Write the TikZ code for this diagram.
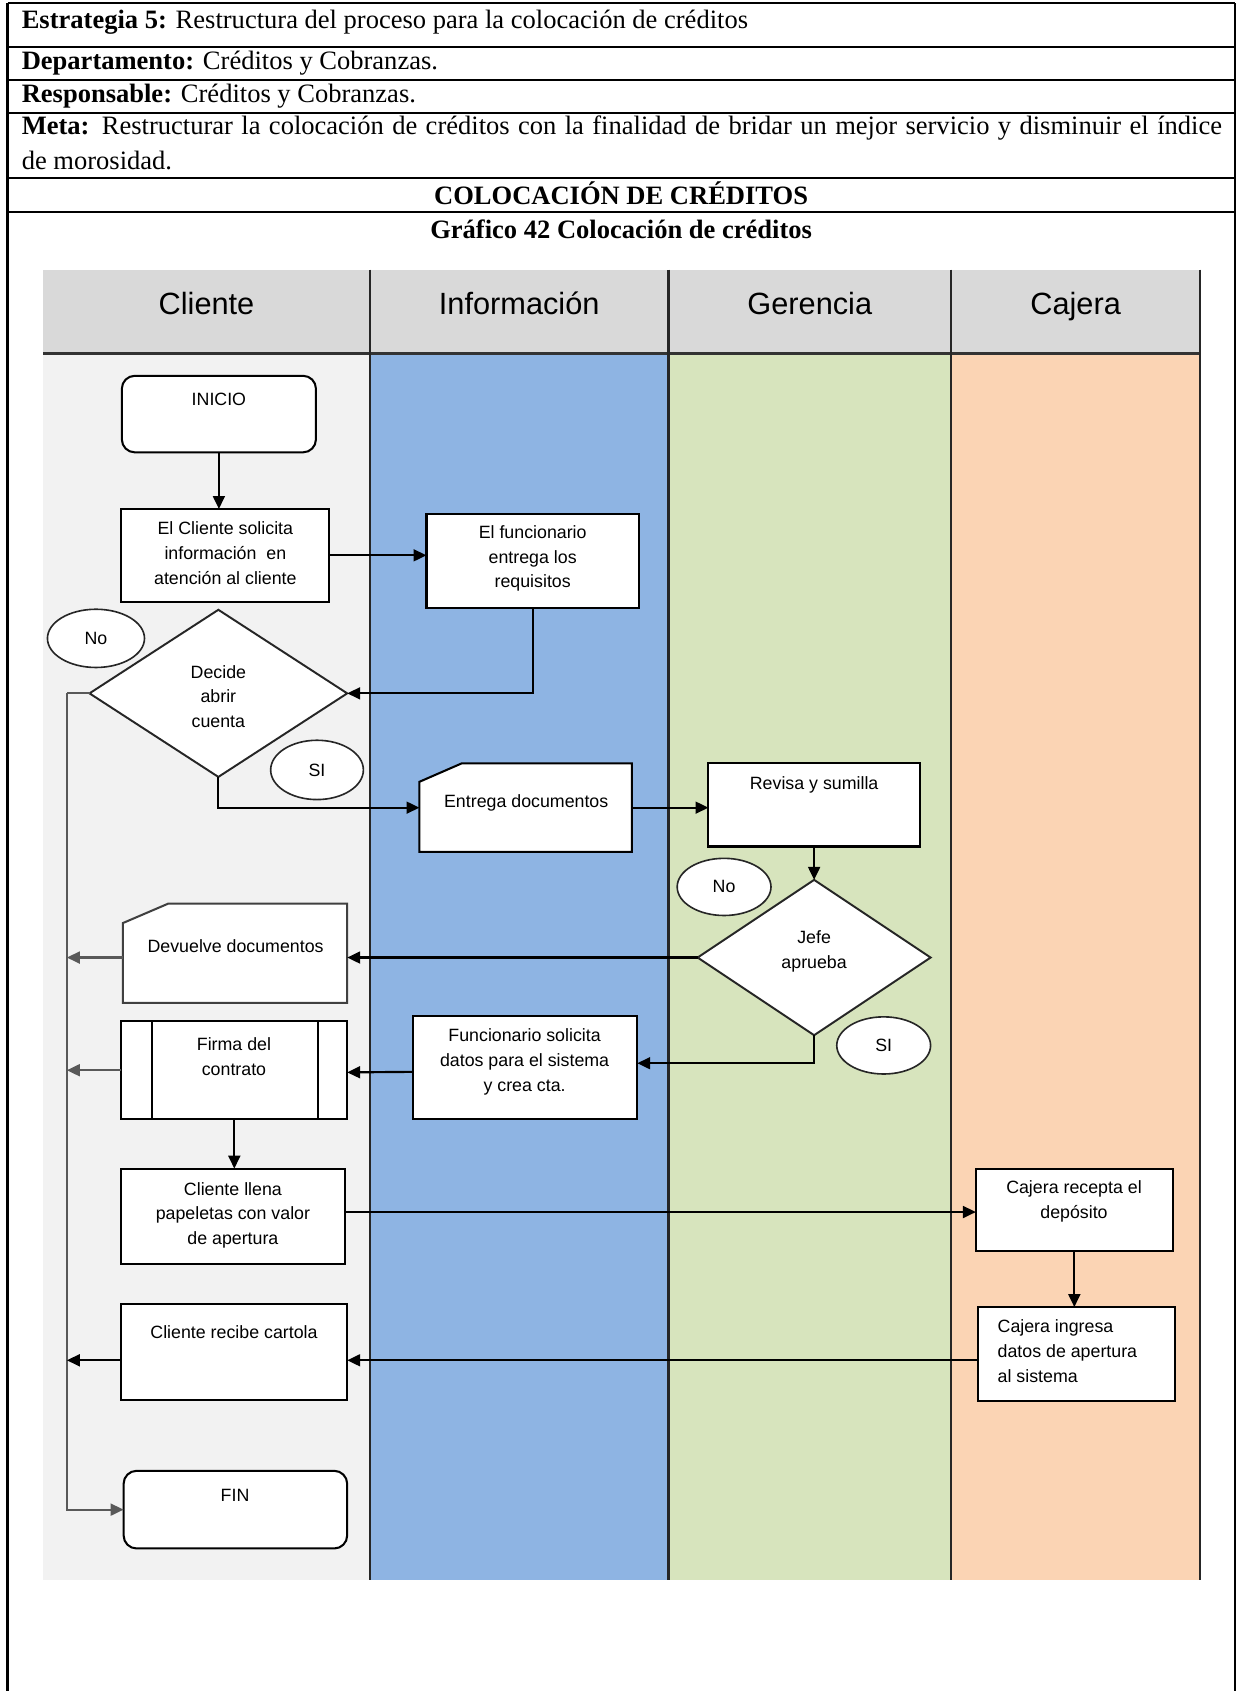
\documentclass[tikz,border=0pt]{standalone}
\usepackage{fontspec}
\setmainfont{Liberation Serif}
\newfontfamily\arialf{Liberation Sans}
\usetikzlibrary{arrows.meta,shapes.geometric,calc}

\definecolor{headgray}{RGB}{217,217,217}
\definecolor{lanecli}{RGB}{242,242,242}
\definecolor{laneinf}{RGB}{142,180,227}
\definecolor{laneger}{RGB}{215,228,189}
\definecolor{lanecaj}{RGB}{251,212,180}

\begin{document}
\begin{tikzpicture}[x=1pt,y=-1pt,
  tabline/.style={line width=2pt,black},
  tabtext/.style={anchor=base west,inner sep=0pt,font=\fontsize{24.6}{32.5}\selectfont},
  tabtitle/.style={anchor=base,inner sep=0pt,font=\fontsize{24.6}{32.5}\selectfont\bfseries},
  lanehead/.style={anchor=base,inner sep=0pt,font=\arialf\fontsize{28.5}{32}\selectfont},
  geom/.style={rectangle,inner sep=0pt,outer sep=0pt},
  procbox/.style={geom,draw=black,fill=white,line width=1.9pt},
  termbox/.style={procbox,rounded corners=12pt},
  docbox/.style={draw=black,fill=white,line width=1.9pt,line join=miter},
  decbox/.style={diamond,inner sep=0pt,outer sep=0pt,draw=black!85,fill=white,line width=1.8pt},
  tag/.style={ellipse,inner sep=0pt,draw=black!85,fill=white,line width=1.5pt,font=\arialf\fontsize{16.5}{20}\selectfont},
  txt/.style={inner sep=0pt,align=center,font=\arialf\fontsize{16.5}{23}\selectfont},
  tip/.style={-{Triangle[length=12pt,width=11pt]}},
  arr/.style={line width=2pt,tip},
  trunk/.style={line width=2pt,black!65},
  lanediv/.style={line width=2pt,black!85},
]
\useasboundingbox (0,0) rectangle (1150,1568.2);

% ---------- table frame ----------
\draw[tabline] (7,2.8) -- (1145,2.8);
\draw[tabline,line width=2.4pt] (7,43.6) -- (1145,43.6);
\draw[tabline] (7,74.2) -- (1145,74.2);
\draw[tabline] (7,104.8) -- (1145,104.8);
\draw[tabline,line width=2.4pt] (7,165.1) -- (1145,165.1);
\draw[tabline,line width=2.4pt] (7,196.6) -- (1145,196.6);
\draw[tabline] (7,2.8) -- (7,1570);
\draw[tabline] (1145,2.8) -- (1145,1570);

\node[tabtext] (estr) at (20,26) {\textbf{Estrategia 5:} Restructura del proceso para la colocación de créditos};
\node[tabtext] (dept) at (20,64.5) {\textbf{Departamento:} Créditos y Cobranzas.};
\node[tabtext] (resp) at (20,95.5) {\textbf{Responsable:} Créditos y Cobranzas.};
\node[tabtext] (meta) at (20,124.5) {\parbox[t]{1113pt}{\fontsize{24.6}{32.5}\selectfont
  \textbf{Meta:} Restructurar la colocación de créditos con la finalidad de bridar un mejor servicio y disminuir el índice\linebreak de morosidad.}};
\node[tabtitle] (colo) at (576,190) {COLOCACIÓN DE CRÉDITOS};
\node[tabtitle] (graf) at (576,221) {Gráfico 42 Colocación de créditos};

% ---------- swimlanes ----------
\fill[headgray] (40,250) rectangle (1113,328);
\fill[lanecli] (40,328) rectangle (343,1465);
\fill[laneinf] (343,328) rectangle (620,1465);
\fill[laneger] (620,328) rectangle (882,1465);
\fill[lanecaj] (882,328) rectangle (1113,1465);
\draw[line width=2.6pt,black!80] (40,328) -- (1113,328);
\foreach \lx in {343,620,882,1113} \draw[lanediv] (\lx,250) -- (\lx,1465);

\node[lanehead] (hcli) at (191.5,292) {Cliente};
\node[lanehead] (hinf) at (481.5,292) {Información};
\node[lanehead] (hger) at (751,292) {Gerencia};
\node[lanehead] (hcaj) at (997.5,292) {Cajera};

% ---------- shapes ----------
\node[termbox,minimum width=180pt,minimum height=71pt] (ini) at (203,384) {};
\node[procbox,minimum width=193pt,minimum height=86pt] (sol) at (209,515) {};
\node[procbox,minimum width=197pt,minimum height=87pt] (fun) at (494,520) {};
\node[decbox,minimum width=239pt,minimum height=155pt] (dec) at (202.5,643) {};

\node[geom,minimum width=197pt,minimum height=82pt] (ent) at (487.5,749) {};
\filldraw[docbox] ($(ent.north west)+(0,17)$) -- ($(ent.north west)+(39,0)$) -- (ent.north east)
  -- (ent.south east) -- (ent.south west) -- cycle;
\node[procbox,minimum width=196pt,minimum height=77pt] (rev) at (755,746.5) {};
\node[decbox,minimum width=216pt,minimum height=144pt] (jefe) at (755,888) {};

\node[geom,minimum width=208pt,minimum height=92pt] (dev) at (218,884) {};
\filldraw[docbox,draw=black!75] ($(dev.north west)+(0,18)$) -- ($(dev.north west)+(42,0)$) -- (dev.north east)
  -- (dev.south east) -- (dev.south west) -- cycle;

\node[procbox,minimum width=208pt,minimum height=95pt] (fs) at (487,990) {};
\node[procbox,minimum width=209.4pt,minimum height=91pt] (firma) at (217.3,992.5) {};
\draw[line width=1.9pt] ($(firma.north west)+(28,0)$) -- ($(firma.south west)+(28,0)$);
\draw[line width=1.9pt] ($(firma.north east)+(-27,0)$) -- ($(firma.south east)+(-27,0)$);
\node[procbox,minimum width=207.4pt,minimum height=88.5pt] (llena) at (216.3,1128) {};
\node[procbox,minimum width=182.6pt,minimum height=76pt] (caj1) at (996.3,1122) {};
\node[procbox,minimum width=182.7pt,minimum height=86.7pt] (caj2) at (998.3,1255.5) {};
\node[procbox,minimum width=209.4pt,minimum height=89pt] (rec) at (217.3,1254) {};
\node[termbox,minimum width=207.3pt,minimum height=72pt] (fin) at (218.3,1400) {};

% ---------- texts ----------
\node[txt] (tini) at (203,370) {INICIO};
\node[txt] (tsol) at (209,513) {El Cliente solicita\\información\ \ en\\atención al cliente};
\node[txt] (tfun) at (494,518) {El funcionario\\entrega los\\requisitos};
\node[txt] (tdec) at (202.5,646) {Decide\\abrir\\cuenta};
\node[txt] (tent) at (488,745) {Entrega documentos};
\node[txt] (trev) at (755,728) {Revisa y sumilla};
\node[txt] (tjefe) at (755,882) {Jefe\\aprueba};
\node[txt] (tdev) at (218.5,877) {Devuelve documentos};
\node[txt] (tfs) at (486.5,985) {Funcionario solicita\\datos para el sistema\\y crea cta.};
\node[txt] (tfirma) at (217,980) {Firma del\\contrato};
\node[txt] (tllena) at (216,1127) {Cliente llena\\papeletas con valor\\de apertura};
\node[txt] (tcaj1) at (996,1114) {Cajera recepta el\\depósito};
\node[txt,align=left,anchor=west] (tcaj2) at (925,1253) {Cajera ingresa\\datos de apertura\\al sistema};
\node[txt] (trec) at (217,1235) {Cliente recibe cartola};
\node[txt] (tfin) at (218,1387) {FIN};

% ---------- connectors ----------
\coordinate (ttop) at (62,643);
\draw[arr] (ini.south) -- (ini.south |- sol.north);
\draw[arr] (sol.east) -- (sol.east -| fun.west);
\draw[arr] (fun.south) |- (dec.east);
\draw[arr] (dec.south) |- (ent.west);
\draw[arr] (ent.east) -- (ent.east -| rev.west);
\draw[arr] (rev.south) -- (jefe.north);
\draw[arr] (jefe.west) -- (jefe.west -| dev.east);
\draw[arr] (jefe.south) |- ($(fs.east)+(0,-4)$);
\draw[arr] ($(fs.west)+(0,4)$) -- ($(firma.east)+(0,2)$);
\draw[arr] (firma.south) -- (firma.south |- llena.north);
\draw[arr] ($(llena.east)+(0,-4)$) -- ($(caj1.west)+(0,2)$);
\draw[arr] (caj1.south) -- (caj1.south |- caj2.north);
\draw[arr] ($(caj2.west)+(0,6)$) -- ($(rec.east)+(0,7.5)$);

% return path to the end
\draw[trunk] (dec.west) -- (ttop);
\draw[trunk,tip] (ttop) |- (fin.west);
\draw[trunk,tip] ($(dev.west)+(0,4)$) -- ($(dev.west -| ttop)+(0,4)$);
\draw[trunk,tip] (firma.west) -- (firma.west -| ttop);
\draw[arr] ($(rec.west)+(0,7.5)$) -- ($(rec.west -| ttop)+(0,7.5)$);

% ---------- branch tags ----------
\node[tag,minimum width=90pt,minimum height=54pt] (no1) at (89,592) {No};
\node[tag,minimum width=86pt,minimum height=55pt] (si1) at (294,714) {SI};
\node[tag,minimum width=87pt,minimum height=53pt] (no2) at (671.5,822.5) {No};
\node[tag,minimum width=87pt,minimum height=53pt] (si2) at (819.5,969.5) {SI};
\end{tikzpicture}
\end{document}
